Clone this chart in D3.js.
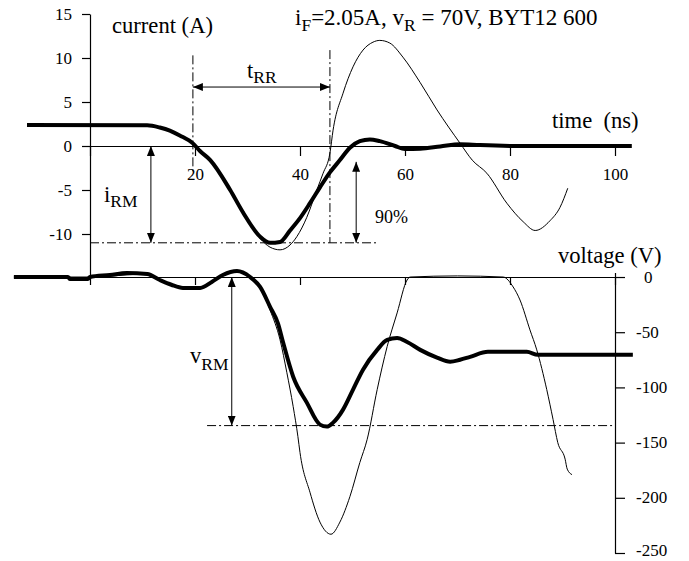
<!DOCTYPE html>
<html>
<head>
<meta charset="utf-8">
<script src="https://cdn.jsdelivr.net/npm/d3@7"></script>
<style>
  body { margin: 0; background: #fff; }
  svg { display: block; font-family: "Liberation Serif", "Times New Roman", serif; }
  text { white-space: pre; }
</style>
</head>
<body>
<div id="chart"></div>
<script>
(function () {

  // axis ticks
  var timeTicks = [0, 20, 40, 60, 80, 100];
  var timeLabels = [20, 40, 60, 80, 100];
  var currentTicks = [15, 10, 5, 0, -5, -10];
  var voltageTicks = [0, -50, -100, -150, -200, -250];

  // measured current (thick), time in ns, current in A
  var measCurT = [-12, 10.9, 13.3, 15.2, 17.1, 19.6, 21, 22.9, 26.7, 29.1, 32.4, 34.3, 36.2, 38.1, 40, 41.9, 43.8, 45.7, 47.6, 49.5, 51.4, 53.3, 55.2, 58.1, 60, 62.9, 66.7, 70.5, 74.3, 82, 103.2];
  var measCurA = [2.4, 2.35, 2.1, 1.75, 1.2, 0.3, -0.6, -1.6, -5, -7.5, -10.3, -11, -10.9, -9.6, -8.2, -6.5, -4.7, -3.0, -1.6, -0.2, 0.55, 0.75, 0.55, 0, -0.35, -0.3, -0.05, 0.2, 0.1, 0, 0];

  // simulated current (thin)
  var simCurT = [-12, 10.9, 13.3, 15.2, 17.1, 19.6, 21, 22.9, 26.7, 29.1, 32.4, 34.3, 36.2, 38.1, 39.4, 41.3, 43.2, 44.4, 45.7, 46.3, 48.2, 50.1, 52, 53.9, 55.2, 57.1, 59.6, 62.9, 66.1, 70.5, 72.8, 75.6, 79.4, 82.5, 84.8, 87.6, 89.5, 91];
  var simCurA = [2.4, 2.35, 2.1, 1.75, 1.2, 0.3, -0.6, -1.6, -5, -7.6, -10.5, -11.5, -11.8, -11.25, -10.3, -8.1, -5, -3.1, -0.8, 1.8, 6.0, 9.0, 10.9, 11.8, 12.0, 11.7, 10.1, 7.2, 4.1, 0.3, -1.6, -3.1, -6.5, -8.6, -9.6, -8.5, -7, -4.8];

  // measured voltage (thick), V
  var measVoltT = [-14.5, -4.2, -3.8, -0.4, 0, 3.8, 7.0, 10.9, 13.3, 15.5, 17.7, 21.0, 23.2, 25.3, 28.0, 30.5, 32.4, 34.3, 35.8, 36.8, 38.7, 41.3, 43.8, 45.1, 46.3, 48.2, 50.1, 52, 54.7, 56.6, 58.5, 60.4, 62.9, 66.1, 68.6, 70.5, 72.4, 75.8, 83.2, 85.3, 103.4];
  var measVoltV = [0, 0, -1.8, -1.8, 0, 1.8, 3.6, 2.7, -2.7, -7, -9.9, -9.9, -4.5, 1.8, 5.4, 0, -9, -27, -42, -59.6, -90.3, -113.8, -133.7, -135.5, -131.9, -120.1, -102, -84, -66, -57, -55.3, -58.8, -66, -73, -76.7, -74.9, -72.3, -67.8, -67.8, -70.5, -70.5];

  // simulated voltage (thin)
  var simVoltT = [-14.5, 0, 10.9, 13.3, 17.7, 21.0, 25.3, 28.0, 30.5, 32.4, 34.3, 36.2, 37.5, 38.7, 39.6, 40.0, 41.9, 43.8, 45.9, 47.6, 49.5, 51.4, 52.8, 54.7, 56.6, 58.5, 60.4, 61, 70, 78.7, 80.6, 81.9, 83.8, 85.1, 87, 88.2, 89.1, 90.5, 90.9, 91.8];
  var simVoltV = [0, 0, 2.7, -2.7, -9.9, -9.9, 1.8, 5.4, 0, -9, -30, -56.9, -86.7, -117.4, -144.5, -159, -195, -222, -233, -222, -199, -168, -147, -102, -63, -32.5, -2.7, 0, 1, 0, -9, -20.8, -47.9, -66, -102, -129, -150, -165, -174, -179];

  // annotation values
  var tRRStart = 19.6, tRREnd = 45.7;
  var iRM = -11, vRM = -134.6;

  var width = 689, height = 561;
  var font = 22.6, subFont = 17.5, tickFont = 17;

  var x = d3.scaleLinear().domain([0, 100]).range([90, 615]);
  var yI = d3.scaleLinear().domain([-15, 15]).range([278, 14]);
  var yV = d3.scaleLinear().domain([-250, 4]).range([553, 272.6]);

  var svg = d3.select("#chart")
    .append("svg")
    .attr("width", width)
    .attr("height", height);

  svg.append("rect").attr("width", width).attr("height", height).attr("fill", "#fff");

  var defs = svg.append("defs");
  defs.append("marker")
    .attr("id", "head")
    .attr("viewBox", "0 0 10 8")
    .attr("refX", 10).attr("refY", 4)
    .attr("markerWidth", 10).attr("markerHeight", 8)
    .attr("markerUnits", "userSpaceOnUse")
    .attr("orient", "auto-start-reverse")
    .append("path")
    .attr("d", "M0,0L10,4L0,8Z")
    .attr("fill", "#000");

  function minusFmt(d) { return d < 0 ? "-" + Math.abs(d) : d; }

  // current axis (left)
  var leftAxis = svg.append("g")
    .attr("transform", "translate(" + x(0) + ",0)")
    .call(d3.axisLeft(yI).tickValues(currentTicks).tickSize(8).tickPadding(10).tickSizeOuter(0)
      .tickFormat(minusFmt));

  // time axis at zero current
  var topTime = svg.append("g")
    .attr("transform", "translate(0," + yI(0) + ")")
    .call(d3.axisBottom(x).tickValues(timeTicks).tickSize(10).tickPadding(19).tickSizeOuter(0)
      .tickFormat(function (d) { return timeLabels.indexOf(d) >= 0 ? d : ""; }));

  // time axis at zero voltage (no labels)
  var lowTime = svg.append("g")
    .attr("transform", "translate(0," + yV(0) + ")")
    .call(d3.axisBottom(x).tickValues(timeTicks).tickSize(8).tickSizeOuter(0).tickFormat(""));

  // voltage axis (right)
  var rightAxis = svg.append("g")
    .attr("transform", "translate(" + x(100) + ",0)")
    .call(d3.axisRight(yV).tickValues(voltageTicks).tickSize(10).tickPadding(11).tickSizeOuter(0)
      .tickFormat(minusFmt));

  [leftAxis, topTime, lowTime, rightAxis].forEach(function (g) {
    g.selectAll("path, line").attr("stroke", "#000").attr("stroke-width", 1.2);
    g.selectAll("text")
      .attr("fill", "#000")
      .style("font-family", "'Liberation Serif', 'Times New Roman', serif")
      .style("font-size", tickFont + "px");
  });
  topTime.selectAll("text").attr("dy", "0.3em");
  rightAxis.selectAll("text")
    .attr("dy", function (d) { return d === -250 ? "0.12em" : "0.3em"; })
    .attr("dx", function (d) { return d === 0 ? 8 : 0; });

  // curves
  function makeLine(yScale) {
    return d3.line()
      .x(function (d) { return x(d[0]); })
      .y(function (d) { return yScale(d[1]); })
      .curve(d3.curveMonotoneX);
  }
  function pairs(ts, vs) {
    return ts.map(function (t, i) { return [t, vs[i]]; });
  }

  svg.append("path")
    .datum(pairs(simVoltT, simVoltV))
    .attr("d", makeLine(yV))
    .attr("fill", "none").attr("stroke", "#000").attr("stroke-width", 1);
  svg.append("path")
    .datum(pairs(simCurT, simCurA))
    .attr("d", makeLine(yI))
    .attr("fill", "none").attr("stroke", "#000").attr("stroke-width", 1);
  svg.append("path")
    .datum(pairs(measVoltT, measVoltV))
    .attr("d", makeLine(yV))
    .attr("fill", "none").attr("stroke", "#000").attr("stroke-width", 4)
    .attr("stroke-linejoin", "round");
  svg.append("path")
    .datum(pairs(measCurT, measCurA))
    .attr("d", makeLine(yI))
    .attr("fill", "none").attr("stroke", "#000").attr("stroke-width", 4)
    .attr("stroke-linejoin", "round");

  // dash-dot guide lines
  function guide(x1, y1, x2, y2) {
    svg.append("line")
      .attr("x1", x1).attr("y1", y1).attr("x2", x2).attr("y2", y2)
      .attr("stroke", "#000").attr("stroke-width", 1)
      .attr("stroke-dasharray", "9,3,2,3");
  }
  guide(x(tRRStart), yI(10.3), x(tRRStart), yI(-3.1));
  guide(x(tRREnd), yI(10.9), x(tRREnd), yI(iRM));
  guide(x(0), yI(iRM), x(54.7), yI(iRM));
  guide(x(22.3), yV(vRM), x(100), yV(vRM));

  // double arrows
  function arrow(x1, y1, x2, y2) {
    svg.append("line")
      .attr("x1", x1).attr("y1", y1).attr("x2", x2).attr("y2", y2)
      .attr("stroke", "#000").attr("stroke-width", 1)
      .attr("marker-start", "url(#head)")
      .attr("marker-end", "url(#head)");
  }
  arrow(x(tRRStart), yI(6.7), x(tRREnd), yI(6.7));
  arrow(x(11.6), yI(0), x(11.6), yI(iRM));
  arrow(x(50.7), yI(-1.8), x(50.7), yI(iRM));
  arrow(x(27), yV(0), x(27), yV(vRM));

  // text with a subscript
  function label(px, py, parts, size, sub) {
    var t = svg.append("text")
      .attr("x", px).attr("y", py)
      .attr("fill", "#000")
      .style("font-size", (size || font) + "px");
    var shift = 0, down = sub || 6;
    parts.forEach(function (p) {
      var dy = (p.sub ? down : 0) - shift;
      shift = p.sub ? down : 0;
      t.append("tspan")
        .attr("dy", dy)
        .style("font-size", (p.sub ? subFont : (size || font)) + "px")
        .text(p.s);
    });
    return t;
  }

  label(295, 25, [{s: "i"}, {s: "F", sub: true}, {s: "=2.05A, v"}, {s: "R", sub: true}, {s: " = 70V, BYT12 600"}], 23);
  label(112, 33, [{s: "current (A)"}]);
  label(552, 128, [{s: "time  (ns)"}]);
  label(558, 263, [{s: "voltage (V)"}]);
  label(247, 78, [{s: "t"}, {s: "RR", sub: true}], null, 5);
  label(104, 202, [{s: "i"}, {s: "RM", sub: true}], null, 5);
  label(190, 363, [{s: "v"}, {s: "RM", sub: true}], null, 7);
  label(375, 223, [{s: "90%"}], 18);

})();
</script>
</body>
</html>
